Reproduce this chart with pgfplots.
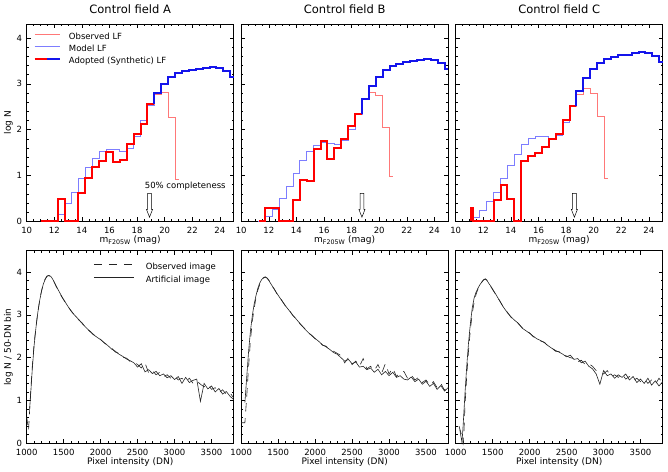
\documentclass[border=0pt]{standalone}
\usepackage{fontspec}
\setmainfont{DejaVu Sans}
\usepackage{pgfplots}
\pgfplotsset{compat=1.18}
\definecolor{obsred}{RGB}{255,120,120}
\definecolor{modblue}{RGB}{125,125,255}
\definecolor{adred}{RGB}{255,0,0}
\definecolor{adblue}{RGB}{20,20,235}
\definecolor{curve}{RGB}{35,35,35}
\newcommand{\ticksize}{\fontsize{8.5bp}{10bp}\selectfont}
\newcommand{\labsize}{\fontsize{9bp}{11bp}\selectfont}
\newcommand{\titsize}{\fontsize{11.5bp}{13bp}\selectfont}
\newcommand{\legsize}{\fontsize{8.5bp}{10bp}\selectfont}
\pgfplotsset{
  common/.style={
    scale only axis, width=207bp,
    axis line style={line width=0.6bp},
    every tick/.style={black, line width=0.5bp},
    major tick length=4bp, minor tick length=2bp,
    tick align=inside,
    tick label style={font=\ticksize},
    /pgf/number format/assume math mode=true,
    /pgf/number format/set thousands separator={},
    scaled x ticks=false, scaled y ticks=false,
    xticklabel style={inner sep=0pt, anchor=north, yshift=-6bp},
    yticklabel style={inner sep=0pt, anchor=east, xshift=-4.5bp},
    label style={font=\labsize},
    xlabel style={at={(axis description cs:0.5,0)}, anchor=base, yshift=-21.5bp},
    ylabel style={at={(axis description cs:-0.089,0.5)}, anchor=center},
    title style={at={(axis description cs:0.5,1)}, anchor=base, yshift=5bp, font=\titsize},
    clip=false,
  },
  lf/.style={common, height=197bp,
    xmin=10, xmax=25, ymin=0, ymax=4.3,
    xtick={10,12,...,24}, ytick={0,1,2,3,4},
    minor x tick num=3, minor y tick num=4,
    xlabel={m\textsubscript{F205W} (mag)}},
  pix/.style={common, height=192.6bp,
    xmin=1000, xmax=3800, ymin=0, ymax=4.5,
    xtick={1000,1500,...,3500}, ytick={0,1,2,3,4},
    minor x tick num=4, minor y tick num=4,
    xlabel={Pixel intensity (DN)}},
  thinM/.style={modblue, line width=0.8bp, const plot mark left, forget plot},
  thinO/.style={obsred, line width=0.8bp, const plot mark left, forget plot},
  thickR/.style={adred, line width=2bp, const plot mark left, forget plot},
  thickB/.style={adblue, line width=2bp, const plot mark left, forget plot},
  obsc/.style={curve, line width=0.6bp, dash pattern=on 8.3bp off 6.7bp, forget plot},
  artc/.style={curve, line width=0.6bp, forget plot},
}
\begin{document}
\begin{tikzpicture}
\path[use as bounding box] (0,0) rectangle (668bp,472bp);

% ---------------- Top row ----------------
\begin{axis}[lf, at={(26.7bp,250.7bp)}, anchor=south west,
  title={Control field A}, ylabel={log N},
  legend style={at={(axis description cs:0.032,0.956)}, anchor=north west,
    draw=none, fill=none, inner sep=0pt, font=\legsize,
    row sep=4.1bp, column sep=8.4bp,
    nodes={inner sep=0pt, text height=6.2bp, text depth=2bp}},
  legend cell align=left]
\addlegendimage{legend image code/.code={\draw[obsred, line width=0.8bp] (0bp,3bp) -- (25bp,3bp);}}
\addlegendentry{Observed LF}
\addlegendimage{legend image code/.code={\draw[modblue, line width=0.8bp] (0bp,3bp) -- (25bp,3bp);}}
\addlegendentry{Model LF}
\addlegendimage{legend image code/.code={\draw[adred, line width=2bp] (0bp,3bp) -- (12.5bp,3bp); \draw[adblue, line width=2bp] (12.5bp,3bp) -- (25bp,3bp);}}
\addlegendentry{Adopted (Synthetic) LF}
\addplot[thinM] coordinates {(11.75,0) (12.25,0.16) (12.75,0.39) (13.25,0.63) (13.75,0.93) (14.25,1.18) (14.75,1.38) (15.25,1.53) (15.75,1.56) (16.25,1.56) (16.75,1.53) (17.25,1.60) (17.75,1.86) (18.25,2.21) (18.75,2.52) (19.25,2.80) (19.75,2.99) (20.25,3.14) (20.75,3.24) (21.25,3.28) (21.75,3.31) (22.25,3.33) (22.75,3.35) (23.25,3.37) (23.75,3.35) (24.25,3.28) (24.75,3.16) (25,3.16)};
\addplot[thinO] coordinates {(11,0) (12.25,0.48) (12.75,0) (13.75,0.61) (14.25,0.95) (14.75,1.18) (15.25,1.31) (15.75,1.52) (16.25,1.30) (16.75,1.33) (17.25,1.69) (17.75,1.90) (18.25,2.12) (18.75,2.56) (19.25,2.77) (19.75,2.81) (20.25,2.26) (20.75,0.91) (21,0.91)};
\addplot[thickR] coordinates {(11,0) (12.25,0.48) (12.75,0) (13.75,0.61) (14.25,0.95) (14.75,1.18) (15.25,1.31) (15.75,1.52) (16.25,1.30) (16.75,1.33) (17.25,1.69) (17.75,1.90) (18.25,2.12) (18.75,2.56) (19.25,2.56)};
\addplot[thickB] coordinates {(19.25,2.56) (19.25,2.80) (19.75,2.99) (20.25,3.14) (20.75,3.24) (21.25,3.28) (21.75,3.31) (22.25,3.33) (22.75,3.35) (23.25,3.37) (23.75,3.35) (24.25,3.28) (24.75,3.16) (25,3.16)};
\draw[line width=0.5bp] (axis cs:18.76,0.61) -- (axis cs:19.04,0.61) -- (axis cs:19.04,0.26) -- (axis cs:19.12,0.26) -- (axis cs:18.9,0.09) -- (axis cs:18.68,0.26) -- (axis cs:18.76,0.26) -- cycle;
\node[anchor=west, font=\legsize, inner sep=0pt] at (axis cs:18.55,0.76) {50\% completeness};
\end{axis}

\begin{axis}[lf, at={(241.2bp,250.7bp)}, anchor=south west,
  title={Control field B}, yticklabels={}]
\addplot[thinM] coordinates {(11.25,0) (11.75,0.10) (12.25,0.26) (12.75,0.49) (13.25,0.76) (13.75,1.05) (14.25,1.32) (14.75,1.53) (15.25,1.66) (15.75,1.72) (16.25,1.70) (16.75,1.68) (17.25,1.76) (17.75,2.01) (18.25,2.33) (18.75,2.68) (19.25,2.96) (19.75,3.16) (20.25,3.30) (20.75,3.38) (21.25,3.43) (21.75,3.47) (22.25,3.50) (22.75,3.53) (23.25,3.54) (23.75,3.53) (24.25,3.45) (24.75,3.33) (25,3.33)};
\addplot[thinO] coordinates {(11.3,0) (11.75,0.30) (12.75,0) (13.75,0.46) (14.25,0.91) (14.75,0.87) (15.25,1.57) (15.75,1.75) (16.25,1.36) (16.75,1.61) (17.25,1.80) (17.75,2.07) (18.25,2.35) (18.75,2.66) (19.25,2.82) (19.75,2.74) (20.25,2.05) (20.75,0.98) (21,0.98)};
\addplot[thickR] coordinates {(11.3,0) (11.75,0.30) (12.75,0) (13.75,0.46) (14.25,0.91) (14.75,0.87) (15.25,1.57) (15.75,1.75) (16.25,1.36) (16.75,1.61) (17.25,1.80) (17.75,2.07) (18.25,2.35) (18.75,2.35)};
\addplot[thickB] coordinates {(18.75,2.35) (18.75,2.68) (19.25,2.96) (19.75,3.16) (20.25,3.30) (20.75,3.38) (21.25,3.43) (21.75,3.47) (22.25,3.50) (22.75,3.53) (23.25,3.54) (23.75,3.53) (24.25,3.45) (24.75,3.33) (25,3.33)};
\draw[line width=0.5bp] (axis cs:18.61,0.61) -- (axis cs:18.89,0.61) -- (axis cs:18.89,0.26) -- (axis cs:18.97,0.26) -- (axis cs:18.75,0.09) -- (axis cs:18.53,0.26) -- (axis cs:18.61,0.26) -- cycle;
\end{axis}

\begin{axis}[lf, at={(455.7bp,250.7bp)}, anchor=south west,
  title={Control field C}, yticklabels={}]
\addplot[thinM] coordinates {(11.25,0.08) (11.75,0.23) (12.25,0.43) (12.75,0.62) (13.25,0.93) (13.75,1.23) (14.25,1.47) (14.75,1.68) (15.25,1.80) (15.75,1.86) (16.25,1.86) (16.75,1.82) (17.25,1.88) (17.75,2.16) (18.25,2.51) (18.75,2.85) (19.25,3.12) (19.75,3.32) (20.25,3.45) (20.75,3.54) (21.25,3.58) (21.75,3.62) (22.25,3.64) (22.75,3.67) (23.25,3.69) (23.75,3.67) (24.25,3.60) (24.75,3.47) (25,3.47)};
\addplot[thinO] coordinates {(11.1,0) (11.1,0.30) (11.25,0) (12.75,0.47) (13.25,0.80) (13.75,0.48) (14.25,0) (14.75,1.32) (15.25,1.42) (15.75,1.50) (16.25,1.63) (16.75,1.79) (17.25,1.90) (17.75,2.21) (18.25,2.51) (18.75,2.78) (19.25,2.91) (19.75,2.80) (20.25,2.28) (20.75,0.93) (21,0.93)};
\addplot[thickR] coordinates {(11.1,0) (11.1,0.30) (11.25,0) (12.75,0.47) (13.25,0.80) (13.75,0.48) (14.25,0) (14.75,1.32) (15.25,1.42) (15.75,1.50) (16.25,1.63) (16.75,1.79) (17.25,1.90) (17.75,2.21) (18.25,2.51) (18.75,2.51)};
\addplot[thickB] coordinates {(18.75,2.51) (18.75,2.85) (19.25,3.12) (19.75,3.32) (20.25,3.45) (20.75,3.54) (21.25,3.58) (21.75,3.62) (22.25,3.64) (22.75,3.67) (23.25,3.69) (23.75,3.67) (24.25,3.60) (24.75,3.47) (25,3.47)};
\draw[line width=0.5bp] (axis cs:18.46,0.61) -- (axis cs:18.74,0.61) -- (axis cs:18.74,0.26) -- (axis cs:18.82,0.26) -- (axis cs:18.6,0.09) -- (axis cs:18.38,0.26) -- (axis cs:18.46,0.26) -- cycle;
\end{axis}

% ---------------- Bottom row ----------------
\begin{axis}[pix, at={(26.7bp,28.7bp)}, anchor=south west,
  ylabel={log N / 50-DN bin},
  legend style={at={(axis description cs:0.322,0.937)}, anchor=north west,
    draw=none, fill=none, inner sep=0pt, font=\legsize,
    row sep=5.1bp, column sep=11.7bp,
    nodes={inner sep=0pt, text height=6.2bp, text depth=2bp}},
  legend cell align=left]
\addlegendimage{legend image code/.code={\draw[curve, line width=0.6bp, dash pattern=on 8.3bp off 6.7bp] (0bp,3bp) -- (40bp,3bp);}}
\addlegendentry{Observed image}
\addlegendimage{legend image code/.code={\draw[curve, line width=0.6bp] (0bp,3bp) -- (40bp,3bp);}}
\addlegendentry{Artificial image}
\addplot[obsc] coordinates {(1000,0.62) (1025,0.30) (1050,1.10) (1075,1.78) (1100,2.32) (1125,2.72) (1150,3.06) (1175,3.34) (1200,3.56) (1225,3.73) (1250,3.84) (1275,3.91) (1300,3.92) (1325,3.90) (1350,3.83) (1375,3.75) (1400,3.66) (1425,3.58) (1450,3.50) (1475,3.42) (1500,3.35) (1550,3.21) (1600,3.10) (1650,2.98) (1700,2.89) (1750,2.81) (1800,2.70) (1850,2.63) (1900,2.55) (1950,2.47) (2000,2.43) (2050,2.34) (2100,2.29) (2150,2.22) (2200,2.13) (2250,2.10) (2300,2.01) (2350,1.99) (2400,1.91) (2450,1.90) (2500,1.84) (2550,1.76) (2600,1.88) (2650,1.64) (2700,1.70) (2750,1.60) (2800,1.66) (2850,1.56) (2900,1.60) (2950,1.52) (3000,1.57) (3050,1.48) (3100,1.52) (3150,1.44) (3200,1.52) (3250,1.40) (3300,1.46) (3350,1.38) (3400,1.32) (3450,1.38) (3500,1.26) (3550,1.30) (3600,1.18) (3650,1.25) (3700,1.14) (3750,1.18) (3800,1.06)};
\addplot[artc] coordinates {(1040,0.82) (1050,1.05) (1075,1.72) (1100,2.28) (1125,2.70) (1150,3.05) (1175,3.33) (1200,3.55) (1225,3.72) (1250,3.83) (1275,3.90) (1300,3.92) (1325,3.90) (1350,3.84) (1375,3.76) (1400,3.67) (1425,3.59) (1450,3.51) (1475,3.43) (1500,3.36) (1550,3.22) (1600,3.09) (1650,2.99) (1700,2.90) (1750,2.80) (1800,2.71) (1850,2.62) (1900,2.54) (1950,2.48) (2000,2.42) (2050,2.35) (2100,2.28) (2150,2.20) (2200,2.15) (2250,2.08) (2300,2.03) (2350,1.97) (2400,1.93) (2450,1.88) (2500,1.78) (2550,1.86) (2600,1.67) (2650,1.72) (2700,1.63) (2750,1.68) (2800,1.58) (2850,1.62) (2900,1.53) (2950,1.58) (3000,1.49) (3050,1.56) (3100,1.40) (3150,1.54) (3200,1.42) (3250,1.47) (3300,1.50) (3350,0.98) (3400,1.40) (3450,1.27) (3500,1.34) (3550,1.20) (3600,1.28) (3650,1.15) (3700,1.21) (3750,1.10) (3800,1.02)};
\end{axis}

\begin{axis}[pix, at={(241.2bp,28.7bp)}, anchor=south west, yticklabels={}]
\addplot[obsc] coordinates {(1000,0.48) (1050,0.48) (1075,1.10) (1100,1.80) (1125,2.40) (1150,2.85) (1175,3.15) (1200,3.40) (1225,3.58) (1250,3.71) (1275,3.80) (1300,3.86) (1325,3.88) (1350,3.86) (1375,3.81) (1400,3.74) (1425,3.66) (1450,3.60) (1475,3.52) (1500,3.45) (1550,3.34) (1600,3.20) (1650,3.11) (1700,2.98) (1750,2.90) (1800,2.78) (1850,2.70) (1900,2.59) (1950,2.53) (2000,2.44) (2050,2.39) (2100,2.29) (2150,2.27) (2200,2.18) (2250,2.15) (2300,2.10) (2350,2.05) (2400,1.88) (2450,2.00) (2500,1.84) (2550,1.92) (2600,1.80) (2650,1.98) (2700,1.74) (2750,1.80) (2800,1.70) (2850,1.84) (2900,1.64) (2950,1.86) (3000,1.62) (3050,1.76) (3100,1.56) (3150,1.66) (3200,1.68) (3250,1.52) (3300,1.60) (3350,1.48) (3400,1.54) (3450,1.42) (3500,1.48) (3550,1.36) (3600,1.44) (3650,1.30) (3700,1.40) (3750,1.24) (3800,1.34)};
\addplot[artc] coordinates {(1050,0.95) (1075,1.55) (1100,2.15) (1125,2.62) (1150,2.98) (1175,3.25) (1200,3.45) (1225,3.62) (1250,3.74) (1275,3.82) (1300,3.87) (1325,3.89) (1350,3.86) (1375,3.80) (1400,3.73) (1425,3.66) (1450,3.59) (1475,3.52) (1500,3.46) (1550,3.33) (1600,3.21) (1650,3.10) (1700,2.99) (1750,2.89) (1800,2.79) (1850,2.69) (1900,2.60) (1950,2.52) (2000,2.45) (2050,2.38) (2100,2.30) (2150,2.25) (2200,2.19) (2250,2.12) (2300,2.08) (2350,2.00) (2400,1.92) (2450,1.96) (2500,1.86) (2550,1.90) (2600,1.78) (2650,1.80) (2700,1.72) (2750,1.76) (2800,1.66) (2850,1.73) (2900,1.60) (2950,1.68) (3000,1.58) (3050,1.66) (3100,1.54) (3150,1.58) (3200,1.50) (3250,1.48) (3300,1.55) (3350,1.44) (3400,1.50) (3450,1.38) (3500,1.45) (3550,1.33) (3600,1.40) (3650,1.26) (3700,1.35) (3750,1.22) (3800,1.30)};
\end{axis}

\begin{axis}[pix, at={(455.7bp,28.7bp)}, anchor=south west, yticklabels={}]
\addplot[obsc] coordinates {(1045,0.40) (1075,0.22) (1105,0.0) (1125,0.85) (1150,1.60) (1175,2.20) (1200,2.68) (1225,3.05) (1250,3.30) (1275,3.48) (1300,3.60) (1325,3.69) (1350,3.76) (1375,3.81) (1400,3.84) (1425,3.81) (1450,3.74) (1475,3.66) (1500,3.59) (1550,3.45) (1600,3.32) (1650,3.16) (1700,3.06) (1750,2.94) (1800,2.88) (1850,2.79) (1900,2.70) (1950,2.62) (2000,2.58) (2050,2.49) (2100,2.45) (2150,2.39) (2200,2.36) (2250,2.27) (2300,2.23) (2350,2.15) (2400,2.14) (2450,2.06) (2500,2.04) (2550,2.00) (2600,1.98) (2650,1.90) (2700,1.94) (2750,1.84) (2800,1.86) (2850,1.80) (2900,1.70) (2950,1.66) (3000,1.62) (3050,1.70) (3100,1.56) (3150,1.60) (3200,1.54) (3250,1.62) (3300,1.50) (3350,1.56) (3400,1.46) (3450,1.52) (3500,1.44) (3550,1.50) (3600,1.40) (3650,1.48) (3700,1.38) (3750,1.52) (3800,1.40)};
\addplot[artc] coordinates {(1055,0.32) (1085,0.02) (1100,0.40) (1125,1.15) (1150,1.82) (1175,2.38) (1200,2.82) (1225,3.18) (1250,3.40) (1275,3.53) (1300,3.62) (1325,3.70) (1350,3.76) (1375,3.82) (1400,3.84) (1425,3.80) (1450,3.73) (1475,3.67) (1500,3.60) (1550,3.46) (1600,3.31) (1650,3.17) (1700,3.05) (1750,2.95) (1800,2.87) (1850,2.80) (1900,2.69) (1950,2.63) (2000,2.57) (2050,2.50) (2100,2.44) (2150,2.40) (2200,2.35) (2250,2.28) (2300,2.22) (2350,2.17) (2400,2.13) (2450,2.08) (2500,2.02) (2550,2.06) (2600,1.96) (2650,1.98) (2700,1.88) (2750,1.92) (2800,1.80) (2850,1.74) (2900,1.62) (2950,1.38) (3000,1.70) (3050,1.58) (3100,1.62) (3150,1.52) (3200,1.60) (3250,1.54) (3300,1.62) (3350,1.48) (3400,1.56) (3450,1.42) (3500,1.50) (3550,1.40) (3600,1.52) (3650,1.36) (3700,1.46) (3750,1.34) (3800,1.44)};
\end{axis}
\end{tikzpicture}
\end{document}
